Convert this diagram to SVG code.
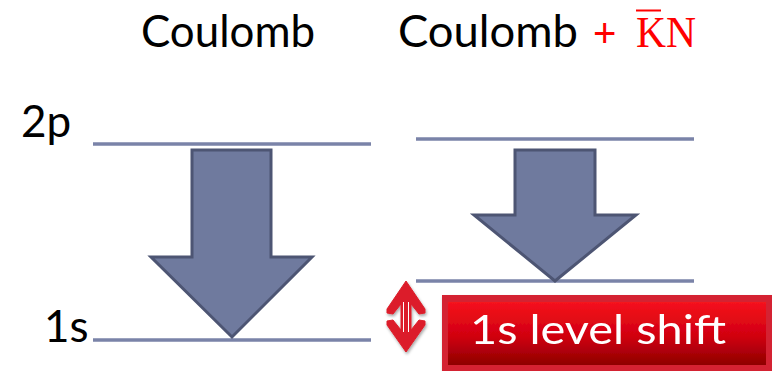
<svg xmlns="http://www.w3.org/2000/svg" width="772" height="371" viewBox="0 0 772 371">
<defs>
<style>
.lvl{stroke:#7a83a8;stroke-width:3.5;fill:none}
.arr{fill:#6f7a9e;stroke:#4d5573;stroke-width:3;stroke-linejoin:miter}
.t{font-family:Lato,"Open Sans","Liberation Sans",sans-serif;font-size:44px;fill:#000}
</style>
<linearGradient id="rg" x1="0" y1="0" x2="0" y2="1">
<stop offset="0" stop-color="#f5121c"/>
<stop offset="0.55" stop-color="#d00010"/>
<stop offset="1" stop-color="#8e0000"/>
</linearGradient>
<filter id="sh" x="-10%" y="-10%" width="130%" height="140%">
<feDropShadow dx="1" dy="2" stdDeviation="1.5" flood-color="#000" flood-opacity="0.35"/>
</filter>
</defs>
<g id="titles">
<text class="t" x="141" y="47" textLength="174" lengthAdjust="spacingAndGlyphs">Coulomb</text>
<text class="t" x="398" y="47" textLength="180" lengthAdjust="spacingAndGlyphs">Coulomb</text>
<text x="593" y="47" font-family="Liberation Sans,sans-serif" font-size="40" fill="#ff0000">+</text>
<text x="636" y="47" font-family="Liberation Serif,serif" font-size="44" fill="#ff0000" textLength="60" lengthAdjust="spacingAndGlyphs">KN</text>
<line x1="636" y1="10.5" x2="661" y2="10.5" stroke="#ff0000" stroke-width="2"/>
</g>
<g id="labels">
<text class="t" x="21" y="137">2p</text>
<text class="t" x="44" y="342">1s</text>
</g>
<g id="coulomb">
<line class="lvl" x1="93" y1="144" x2="371" y2="144"/>
<line class="lvl" x1="93" y1="340" x2="371" y2="340"/>
<polygon class="arr" points="192,150 271,150 271,257 312,257 232,337 151,257 192,257"/>
</g>
<g id="coulomb-kn">
<line class="lvl" x1="416" y1="139" x2="694" y2="139"/>
<line class="lvl" x1="416" y1="281" x2="694" y2="281"/>
<polygon class="arr" points="515,150 595,150 595,215 636,215 555,281 474,215 515,215"/>
</g>
<g id="shift-arrow" filter="url(#sh)">
<polygon points="406,281 425,309 425,313 419,314 411,304 411,330 419,320 425,321 425,325 406,352 387,325 387,321 393,320 401,330 401,304 393,314 387,313 387,309" fill="#dc1f2a" stroke="#dc1f2a" stroke-width="1" stroke-linejoin="round"/>
<line x1="403.5" y1="302" x2="403.5" y2="332" stroke="#fff" stroke-width="1"/>
<line x1="408.5" y1="302" x2="408.5" y2="332" stroke="#fff" stroke-width="1"/>
</g>
<g id="shift-box" filter="url(#sh)">
<rect x="442" y="295" width="332" height="76" fill="#d42230"/>
<rect x="448" y="302" width="318" height="63" fill="url(#rg)"/>
<text x="470" y="344" font-family="Lato,'Open Sans','Liberation Sans',sans-serif" font-size="40" fill="#fff" textLength="256" lengthAdjust="spacingAndGlyphs">1s level shift</text>
</g>
</svg>
